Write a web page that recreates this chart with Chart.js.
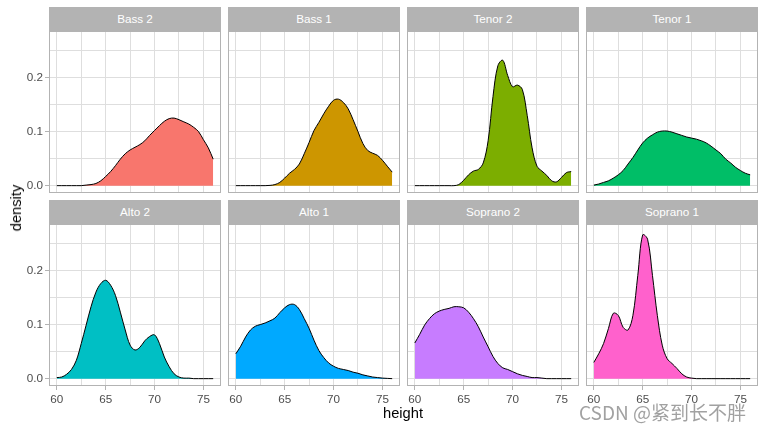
<!DOCTYPE html>
<html>
<head>
<meta charset="utf-8">
<script src="https://cdn.jsdelivr.net/npm/chart.js"></script>
<style>
  body { margin: 0; background: #fff; width: 765px; height: 430px; position: relative; overflow: hidden; font-family: "Liberation Sans", Arial, sans-serif; }
  canvas { position: absolute; }
  .strip { position: absolute; height: 24px; line-height: 24px; background: #B3B3B3; color: #fff; font-size: 11.7px; text-align: center; }
  .axtitle { position: absolute; font-size: 14.7px; color: #000; white-space: nowrap; transform: translate(-50%, -50%); }
  .mark { position: absolute; left: 579px; top: 398px; font-family: "Noto Sans CJK SC", sans-serif; font-size: 19px; color: rgba(130,130,130,0.75); white-space: nowrap; }
</style>
</head>
<body>
<script>
// height grid (inches) shared by every panel
const heights = [60, 60.5, 61, 61.5, 62, 62.5, 63, 63.5, 64, 64.5, 65, 65.5, 66, 66.5, 67, 67.5,
  68, 68.5, 69, 69.5, 70, 70.5, 71, 71.5, 72, 72.5, 73, 73.5, 74, 74.5, 75, 75.5, 76];

// density values
const bass2 = [0, 0, 0, 0, 0, 0, 0.001, 0.002, 0.004, 0.009, 0.017, 0.026, 0.037, 0.049, 0.059, 0.066,
  0.071, 0.076, 0.083, 0.093, 0.102, 0.111, 0.119, 0.124, 0.125, 0.122, 0.118, 0.114, 0.108, 0.100, 0.085, 0.070, 0.049];
const bass1 = [0, 0, 0, 0, 0, 0, 0, 0.0005, 0.002, 0.006, 0.014, 0.023, 0.030, 0.040, 0.059, 0.080,
  0.102, 0.117, 0.133, 0.147, 0.158, 0.160, 0.154, 0.142, 0.122, 0.100, 0.078, 0.065, 0.060, 0.056, 0.047, 0.036, 0.025];
const tenor2 = [0, 0, 0, 0, 0, 0, 0, 0, 0, 0.002, 0.010, 0.020, 0.027, 0.030, 0.042, 0.083,
  0.165, 0.222, 0.232, 0.204, 0.183, 0.186, 0.178, 0.130, 0.070, 0.036, 0.027, 0.019, 0.009, 0.007, 0.015, 0.024, 0.026];
const tenor1 = [0.001, 0.003, 0.006, 0.009, 0.014, 0.020, 0.028, 0.040, 0.052, 0.066, 0.079, 0.088, 0.094, 0.099, 0.101, 0.101,
  0.099, 0.096, 0.093, 0.090, 0.088, 0.086, 0.083, 0.079, 0.073, 0.066, 0.059, 0.049, 0.042, 0.034, 0.028, 0.023, 0.020];
const alto2 = [0.002, 0.003, 0.008, 0.017, 0.034, 0.065, 0.099, 0.133, 0.160, 0.176, 0.182, 0.173, 0.154, 0.123, 0.090, 0.062,
  0.053, 0.058, 0.070, 0.078, 0.081, 0.065, 0.040, 0.022, 0.009, 0.003, 0.001, 0.001, 0, 0, 0, 0, 0];
const alto1 = [0.046, 0.060, 0.077, 0.090, 0.097, 0.100, 0.103, 0.107, 0.112, 0.122, 0.131, 0.137, 0.137, 0.128, 0.111, 0.093,
  0.071, 0.052, 0.039, 0.029, 0.023, 0.019, 0.017, 0.015, 0.012, 0.010, 0.007, 0.005, 0.003, 0.002, 0.001, 0.0005, 0];
const soprano2 = [0.066, 0.082, 0.099, 0.111, 0.120, 0.125, 0.128, 0.130, 0.133, 0.133, 0.131, 0.123, 0.111, 0.096, 0.077, 0.059,
  0.041, 0.028, 0.020, 0.017, 0.013, 0.009, 0.006, 0.004, 0.002, 0.002, 0.001, 0, 0, 0, 0, 0, 0];
const soprano1 = [0.030, 0.046, 0.065, 0.093, 0.121, 0.117, 0.095, 0.090, 0.117, 0.191, 0.266, 0.258, 0.191, 0.117, 0.062, 0.037,
  0.028, 0.019, 0.009, 0.003, 0.001, 0, 0, 0, 0, 0, 0, 0, 0, 0, 0, 0, 0];

const groups = ['Bass 2', 'Bass 1', 'Tenor 2', 'Tenor 1', 'Alto 2', 'Alto 1', 'Soprano 2', 'Soprano 1'];
const series = [bass2, bass1, tenor2, tenor1, alto2, alto1, soprano2, soprano1];
const fills = ['#F8766D', '#CD9600', '#7CAE00', '#00BE67', '#00BFC4', '#00A9FF', '#C77CFF', '#FF61CC'];

const xTicks = [60, 62.5, 65, 67.5, 70, 72.5, 75];
const xLabels = [60, 65, 70, 75];
const yTicks = [0, 0.05, 0.1, 0.15, 0.2, 0.25];
const yLabels = [0, 0.1, 0.2];

// page geometry
const panelLeft = [49, 228, 407, 586];
const panelTop = [31, 224];
const stripTop = [7, 200];
const panelW = 172, panelH = 162, xAxisH = 22;
const FONT = '"Liberation Sans", Arial, sans-serif';

// grey70 border round each panel, drawn over the data like ggplot does
const panelBorder = {
  id: 'panelBorder',
  afterDraw(chart) {
    const { ctx, chartArea: a } = chart;
    ctx.save();
    ctx.strokeStyle = '#B3B3B3';
    ctx.lineWidth = 1;
    ctx.strokeRect(a.left + 0.5, a.top + 0.5, a.width - 1, a.height - 1);
    ctx.restore();
  }
};

// fix axis size and drop the label overflow padding so the panel lands exactly
function pinSize(s, w, h) {
  if (w !== null) s.width = w;
  if (h !== null) s.height = h;
  s.paddingTop = 0; s.paddingBottom = 0; s.paddingLeft = 0; s.paddingRight = 0;
}

function addDiv(cls, text, style) {
  const d = document.createElement('div');
  d.className = cls;
  d.textContent = text;
  Object.assign(d.style, style);
  document.body.appendChild(d);
  return d;
}

groups.forEach((name, i) => {
  const row = Math.floor(i / 4), col = i % 4;
  const leftCol = col === 0, bottomRow = row === 1;

  addDiv('strip', name, { left: panelLeft[col] + 'px', top: stripTop[row] + 'px', width: panelW + 'px' });

  const cv = document.createElement('canvas');
  const cw = leftCol ? panelLeft[0] + panelW : panelW;
  const ch = panelH + (bottomRow ? xAxisH : 0);
  cv.width = cw; cv.height = ch;
  cv.style.left = (leftCol ? 0 : panelLeft[col]) + 'px';
  cv.style.top = panelTop[row] + 'px';
  cv.style.width = cw + 'px'; cv.style.height = ch + 'px';
  document.body.appendChild(cv);

  new Chart(cv, {
    type: 'line',
    data: {
      datasets: [{
        label: name,
        data: heights.map((h, k) => ({ x: h, y: series[i][k] })),
        borderColor: '#000000',
        borderWidth: 1,
        backgroundColor: fills[i],
        fill: 'origin',
        pointRadius: 0,
        tension: 0.35
      }]
    },
    options: {
      responsive: false,
      animation: false,
      devicePixelRatio: 1,
      layout: { padding: 0 },
      plugins: { legend: { display: false }, tooltip: { enabled: false } },
      scales: {
        x: {
          type: 'linear', min: 59.2, max: 76.8,
          afterBuildTicks: s => { s.ticks = xTicks.map(v => ({ value: v })); },
          afterFit: s => pinSize(s, null, bottomRow ? xAxisH : 0),
          border: { display: false },
          grid: {
            color: '#DEDEDE', lineWidth: 1,
            drawTicks: bottomRow, tickLength: 4, tickColor: '#B3B3B3',
            tickWidth: c => (c.tick && xLabels.includes(c.tick.value)) ? 1 : 0
          },
          ticks: {
            display: bottomRow, autoSkip: false, maxRotation: 0, padding: 3,
            color: '#4D4D4D', font: { family: FONT, size: 11.7 },
            callback: v => xLabels.includes(v) ? String(v) : ''
          }
        },
        y: {
          type: 'linear', min: -0.0136, max: 0.2861,
          afterBuildTicks: s => { s.ticks = yTicks.map(v => ({ value: v })); },
          afterFit: s => pinSize(s, leftCol ? panelLeft[0] : 0, null),
          border: { display: false },
          grid: {
            color: '#DEDEDE', lineWidth: 1,
            drawTicks: leftCol, tickLength: 4, tickColor: '#B3B3B3',
            tickWidth: c => (c.tick && yLabels.includes(c.tick.value)) ? 1 : 0
          },
          ticks: {
            display: leftCol, autoSkip: false, padding: 2,
            color: '#4D4D4D', font: { family: FONT, size: 11.7 },
            callback: v => yLabels.includes(v) ? v.toFixed(1) : ''
          }
        }
      }
    },
    plugins: [panelBorder]
  });
});

addDiv('axtitle', 'height', { left: '403px', top: '413px' });
addDiv('axtitle', 'density', { left: '16px', top: '208px', transform: 'translate(-50%, -50%) rotate(-90deg)' });
addDiv('mark', 'CSDN @紧到长不胖', {});
</script>
</body>
</html>
